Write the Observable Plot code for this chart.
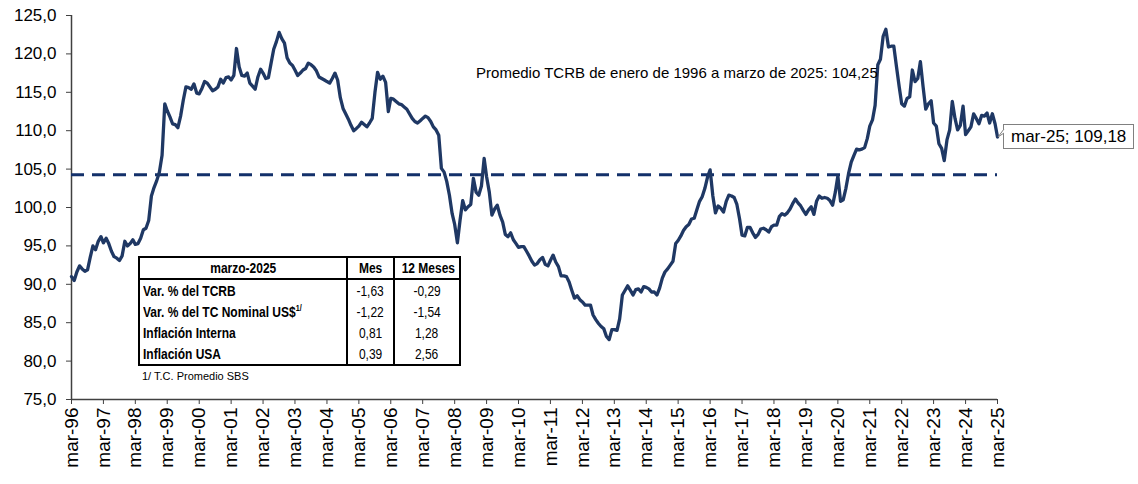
<!DOCTYPE html>
<html><head><meta charset="utf-8">
<script src="https://cdn.jsdelivr.net/npm/d3@7"></script>
<script src="https://cdn.jsdelivr.net/npm/@observablehq/plot@0.6"></script>
<style>
body{margin:0;background:#fff;font-family:"Liberation Sans",Arial,sans-serif;}
#wrap{position:relative;width:1138px;height:484px;overflow:hidden;background:#fff}
#tbl{position:absolute;left:138px;top:256px;}
#tbl table{border-collapse:collapse;border:2px solid #000;table-layout:fixed;width:321px;font-size:15px;color:#000}
#tbl th{height:20px;padding:0;border-bottom:2px solid #000;font-weight:bold;text-align:center;line-height:20px}
#tbl td{height:21px;padding:0;line-height:21px;text-align:center}
#tbl td.lab{text-align:left;font-weight:bold;padding-left:3px}
#tbl .c2{border-left:2px solid #000;border-right:2px solid #000}
#tbl span{display:inline-block;transform:scaleX(.8);transform-origin:center;white-space:nowrap}
#tbl td.lab span{transform-origin:left}
#tbl sup{font-size:9px;vertical-align:6px;line-height:0}
#foot{position:absolute;left:142px;top:370px;font-size:11px;color:#000;white-space:nowrap}
#callout{position:absolute;height:23px;line-height:23px;border:1px solid #808080;background:#fff;padding:0 7px;font-size:17px;white-space:nowrap;color:#000}
#notch{position:absolute;overflow:visible}
</style></head><body><div id="wrap"></div>
<script>
// Monthly TCRB index, mar-96 .. feb-06
const tcrb1996_2006 = [
91.0, 90.5, 91.6, 92.4, 92.0, 91.7, 91.9, 93.5, 95.0, 94.5, 95.6, 96.2,
95.4, 96.0, 95.3, 94.3, 93.6, 93.4, 93.1, 93.7, 95.6, 95.0, 95.3, 95.8,
95.2, 95.3, 96.0, 97.1, 97.3, 98.3, 101.5, 102.6, 103.5, 104.6, 106.8, 113.5,
112.6, 111.8, 110.9, 110.8, 110.4, 111.9, 114.0, 115.7, 115.6, 115.4, 116.1, 114.9,
114.8, 115.5, 116.4, 116.2, 115.7, 115.2, 115.4, 115.7, 116.7, 116.2, 116.9, 117.0,
116.6, 117.2, 120.7, 118.3, 117.2, 117.1, 117.5, 116.2, 115.8, 115.4, 117.0, 118.0,
117.5, 116.8, 116.9, 118.8, 120.6, 121.6, 122.8, 122.0, 121.4, 119.5, 118.8, 118.5,
117.9, 117.2, 117.5, 117.9, 118.1, 118.8, 118.6, 118.3, 117.8, 117.0, 116.8, 116.6,
116.4, 116.2, 116.8, 117.5, 116.6, 114.3, 112.9, 112.2, 111.5, 110.7, 110.0, 110.3,
110.6, 111.1, 110.8, 110.5, 111.0, 111.6, 115.0, 117.6, 116.7, 117.1, 116.3, 112.5
];
// mar-06 .. feb-16
const tcrb2006_2016 = [
114.2, 114.1, 113.8, 113.5, 113.4, 113.1, 112.8, 112.2, 111.6, 111.2, 111.0, 111.3,
111.6, 111.9, 111.7, 111.2, 110.5, 110.1, 109.4, 105.1, 104.6, 103.4, 101.6, 99.2,
97.8, 95.4, 98.3, 100.9, 99.7, 100.1, 100.4, 103.8, 102.0, 101.6, 102.8, 106.4,
104.0, 102.0, 99.0, 99.8, 100.3, 99.0, 98.1, 96.5, 96.2, 96.7, 95.8, 95.3,
94.8, 94.9, 94.9, 94.3, 93.7, 93.0, 92.5, 92.7, 93.2, 93.5, 92.6, 92.4,
93.1, 93.8, 92.9, 92.3, 91.1, 91.1, 91.0, 90.3, 89.2, 88.2, 88.5, 88.0,
87.7, 87.3, 87.3, 87.3, 86.0, 85.4, 84.9, 84.5, 84.2, 83.2, 82.8, 84.1,
84.1, 84.0, 85.5, 88.6, 89.2, 89.8, 89.2, 88.6, 89.3, 89.4, 89.0, 89.7,
89.6, 89.4, 89.0, 89.0, 88.6, 89.5, 90.8, 91.6, 92.0, 92.5, 93.0, 95.3,
95.7, 96.3, 97.0, 97.5, 97.8, 98.5, 98.6, 99.7, 100.8, 101.4, 102.5, 104.0
];
// mar-16 .. mar-25
const tcrb2016_2025 = [
104.9, 101.5, 99.3, 100.2, 99.9, 99.4, 100.8, 101.6, 101.5, 101.3, 100.4, 98.5,
96.4, 96.3, 97.4, 97.4, 96.7, 96.1, 96.5, 97.2, 97.3, 97.1, 96.8, 97.5,
97.7, 97.7, 98.8, 99.2, 99.0, 99.3, 99.8, 100.5, 101.1, 100.6, 100.2, 99.6,
99.1, 99.7, 100.1, 99.1, 100.8, 101.5, 101.2, 101.3, 101.2, 100.9, 100.3, 102.0,
104.1, 100.8, 101.0, 102.5, 104.4, 105.9, 106.8, 107.6, 107.5, 107.6, 107.8, 109.0,
110.6, 111.4, 113.3, 118.6, 119.3, 122.3, 123.2, 120.9, 121.0, 121.0, 118.3, 115.7,
113.5, 113.2, 114.2, 114.4, 117.9, 116.4, 116.8, 119.0, 115.7, 112.8, 113.5, 113.9,
111.0, 110.6, 108.3, 107.7, 106.1, 108.8, 110.1, 113.8, 111.6, 110.1, 110.7, 113.2,
109.5, 110.0, 110.5, 112.2, 111.6, 110.9, 112.0, 111.9, 112.3, 111.0, 112.2, 110.9,
109.18
];
const promedio = 104.25;
const tickLabels = ["mar-96","mar-97","mar-98","mar-99","mar-00","mar-01","mar-02","mar-03","mar-04","mar-05",
"mar-06","mar-07","mar-08","mar-09","mar-10","mar-11","mar-12","mar-13","mar-14","mar-15",
"mar-16","mar-17","mar-18","mar-19","mar-20","mar-21","mar-22","mar-23","mar-24","mar-25"];
const yTicks = [75,80,85,90,95,100,105,110,115,120,125];
const annotationText = "Promedio TCRB de enero de 1996 a marzo de 2025: 104,25";
const calloutText = "mar-25; 109,18";
const tableHeader = ["marzo-2025","Mes","12 Meses"];
const tableLabels = ["Var. % del TCRB","Var. % del TC Nominal US$","Inflación Interna","Inflación USA"];
const tableMes = ["-1,63","-1,22","0,81","0,39"];
const table12 = ["-0,29","-1,54","1,28","2,56"];
const footnote = "1/ T.C. Promedio SBS";

const values = tcrb1996_2006.concat(tcrb2006_2016, tcrb2016_2025);
const start = new Date(Date.UTC(1996, 2, 1));
const data = values.map((v, i) => ({date: d3.utcMonth.offset(start, i), value: v}));
const end = data[data.length - 1].date;
const tickDates = tickLabels.map((_, i) => new Date(Date.UTC(1996 + i, 2, 1)));
const fmt = d => d.toFixed(1).replace(".", ",");
const lineColor = "#1f3864";
const dashColor = "#13306a";
const axisColor = "#404040";

const chart = Plot.plot({
  width: 1138, height: 484,
  marginLeft: 71, marginRight: 141, marginTop: 15, marginBottom: 85,
  style: {fontFamily: "'Liberation Sans', Arial, sans-serif", color: "#000", background: "#fff", overflow: "visible"},
  x: {type: "utc", domain: [start, end]},
  y: {domain: [75, 125]},
  marks: [
    Plot.axisY({ticks: yTicks, tickFormat: fmt, tickSize: 5, tickPadding: 10, fontSize: 17, stroke: axisColor, label: null}),
    Plot.axisX({ticks: tickDates, tickFormat: d => tickLabels[d.getUTCFullYear() - 1996], tickRotate: -90, tickSize: 5, tickPadding: 3, fontSize: 19, stroke: axisColor, label: null}),
    Plot.ruleX([start], {stroke: axisColor, strokeWidth: 1.5}),
    Plot.ruleY([75], {stroke: axisColor, strokeWidth: 1.5}),
    Plot.ruleY([promedio], {x1: start, x2: end, stroke: dashColor, strokeWidth: 3, strokeDasharray: "13,8"}),
    Plot.line(data, {x: "date", y: "value", stroke: lineColor, strokeWidth: 3.3, strokeLinejoin: "round"}),
    Plot.text([annotationText], {x: new Date(Date.UTC(2008, 10, 1)), y: 117.5, text: d => d, textAnchor: "start", fontSize: 15, fill: "#000", ariaLabel: "promedio"})
  ]
});
const wrap = document.getElementById("wrap");
wrap.appendChild(chart);
const t = chart.querySelector('g[aria-label="promedio"] text');
if (t) { t.setAttribute("textLength", 344); t.setAttribute("lengthAdjust", "spacingAndGlyphs"); }

// table
const tbl = document.createElement("div");
tbl.id = "tbl";
let html = '<table><colgroup><col style="width:208px"><col style="width:47px"><col style="width:66px"></colgroup>';
html += '<tr><th><span>' + tableHeader[0] + '</span></th><th class="c2"><span>' + tableHeader[1] + '</span></th><th><span>' + tableHeader[2] + '</span></th></tr>';
tableLabels.forEach((lab, i) => {
  const l = i === 1 ? lab + '<sup>1/</sup>' : lab;
  html += '<tr><td class="lab"><span>' + l + '</span></td><td class="c2"><span>' + tableMes[i] + '</span></td><td><span>' + table12[i] + '</span></td></tr>';
});
html += '</table>';
tbl.innerHTML = html;
wrap.appendChild(tbl);
const foot = document.createElement("div");
foot.id = "foot"; foot.textContent = footnote;
wrap.appendChild(foot);

// callout at last point
const xs = chart.scale("x"), ys = chart.scale("y");
const last = data[data.length - 1];
const px = xs.apply(last.date), py = ys.apply(last.value);
const co = document.createElement("div");
co.id = "callout"; co.textContent = calloutText;
co.style.left = (px + 6) + "px";
co.style.top = (py - 12.5) + "px";
wrap.appendChild(co);
// small callout pointer
const ns = "http://www.w3.org/2000/svg";
const notch = document.createElementNS(ns, "svg");
notch.setAttribute("id", "notch");
notch.setAttribute("width", 12); notch.setAttribute("height", 14);
notch.style.left = (px) + "px"; notch.style.top = (py - 8) + "px";
const poly = document.createElementNS(ns, "polyline");
poly.setAttribute("points", "7,1 1,9 7,5");
poly.setAttribute("fill", "#fff"); poly.setAttribute("stroke", "#808080"); poly.setAttribute("stroke-width", "1");
notch.appendChild(poly);
wrap.appendChild(notch);
</script></body></html>
